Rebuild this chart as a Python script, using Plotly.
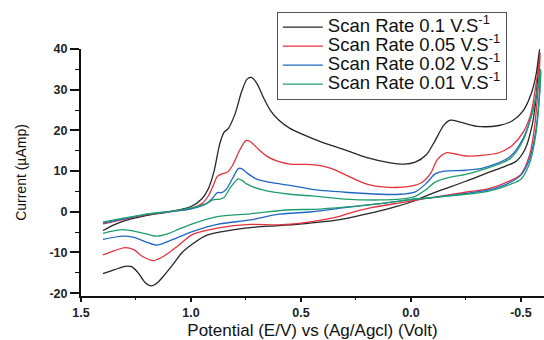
import plotly.graph_objects as go

# ---------------- data ----------------
SERIES_NAMES = ["Scan Rate 0.1 V.S<sup>-1</sup>", "Scan Rate 0.05 V.S<sup>-1</sup>",
                "Scan Rate 0.02 V.S<sup>-1</sup>", "Scan Rate 0.01 V.S<sup>-1</sup>"]

# 0.1 V/s
POT_010 = [1.40, 1.35, 1.30, 1.20, 1.10, 1.00, 0.95, 0.92, 0.895, 0.87, 0.85, 0.83, 0.80, 0.77, 0.745,
           0.725, 0.70, 0.67, 0.64, 0.60, 0.55, 0.50, 0.40, 0.30, 0.20, 0.10, 0.03, -0.02, -0.07, -0.11,
           -0.15, -0.18, -0.22, -0.30, -0.40, -0.46, -0.51, -0.55, -0.57, -0.585,
           -0.575, -0.565, -0.55, -0.52, -0.48, -0.43, -0.35, -0.25, -0.10, 0.00, 0.10, 0.20, 0.33,
           0.48, 0.60, 0.73, 0.85, 0.93, 0.99, 1.04, 1.08, 1.12, 1.15, 1.18, 1.21, 1.24, 1.27, 1.30,
           1.35, 1.40]
CUR_010 = [-4.6, -3.2, -2.2, -0.9, 0.0, 1.3, 3.2, 5.8, 10.0, 16.5, 19.5, 20.5, 24.0, 29.5, 32.6,
           33.0, 31.5, 28.0, 25.0, 22.5, 20.5, 19.2, 17.0, 15.2, 13.3, 12.1, 11.7, 12.2, 14.0, 17.5,
           21.3, 22.5, 22.1, 21.0, 21.2, 22.3, 24.8, 29.5, 34.0, 40.0,
           32.0, 26.0, 21.0, 15.5, 12.5, 11.2, 9.6, 7.5, 4.6, 2.4, 0.8, -0.5, -2.0,
           -2.9, -3.4, -3.9, -4.8, -5.8, -7.8, -10.0, -12.8, -15.5, -17.3, -18.2, -17.3, -15.0, -13.5, -13.4,
           -14.3, -15.2]

# 0.05 V/s
POT_005 = [1.40, 1.30, 1.20, 1.10, 1.00, 0.95, 0.92, 0.90, 0.88, 0.86, 0.835, 0.81, 0.78, 0.75, 0.73,
           0.69, 0.65, 0.61, 0.55, 0.45, 0.37, 0.29, 0.20, 0.10, 0.00, -0.05, -0.09, -0.12, -0.16,
           -0.20, -0.25, -0.33, -0.40, -0.46, -0.51, -0.545, -0.565, -0.58, -0.588,
           -0.575, -0.56, -0.54, -0.50, -0.45, -0.35, -0.25, -0.05, 0.05, 0.18, 0.29, 0.33, 0.45,
           0.60, 0.73, 0.88, 0.99, 1.06, 1.12, 1.17, 1.22, 1.26, 1.30, 1.35, 1.40]
CUR_005 = [-3.0, -1.8, -0.7, 0.0, 0.8, 2.0, 4.0, 6.3, 8.7, 9.3, 9.7, 11.5, 15.0, 17.5, 17.2,
           15.2, 13.5, 12.5, 11.7, 11.6, 10.8, 8.9, 6.8, 6.0, 6.3, 7.2, 9.5, 12.8, 14.5,
           14.2, 13.7, 13.9, 14.5, 16.3, 19.5, 24.0, 30.0, 35.5, 39.0,
           28.0, 20.0, 14.0, 9.2, 7.6, 5.6, 4.8, 3.1, 2.2, 1.0, -0.5, -1.2, -2.4,
           -3.2, -3.1, -4.0, -5.5, -8.4, -10.8, -12.0, -11.0, -9.3, -8.8, -9.6, -10.6]

# 0.02 V/s
POT_002 = [1.40, 1.30, 1.20, 1.00, 0.93, 0.90, 0.88, 0.86, 0.84, 0.81, 0.785, 0.77, 0.745, 0.70, 0.64,
           0.55, 0.45, 0.30, 0.14, 0.05, -0.02, -0.07, -0.11, -0.15, -0.25, -0.33, -0.45, -0.51,
           -0.55, -0.575, -0.59,
           -0.58, -0.565, -0.54, -0.50, -0.45, -0.35, -0.25, -0.10, 0.00, 0.14, 0.30, 0.45, 0.60,
           0.73, 0.88, 0.99, 1.10, 1.155, 1.20, 1.26, 1.31, 1.40]
CUR_002 = [-2.8, -1.7, -0.6, 0.7, 2.0, 3.5, 4.7, 4.7, 5.5, 8.3, 10.6, 10.6, 9.5, 8.0, 7.2,
           6.5, 5.5, 4.8, 4.3, 4.3, 4.9, 7.0, 9.3, 10.0, 10.2, 10.8, 13.5, 18.0,
           24.0, 30.0, 35.0,
           26.0, 19.0, 13.0, 9.0, 7.2, 5.3, 4.5, 3.5, 3.0, 2.0, 1.0, 0.0, -0.6,
           -2.0, -3.1, -4.8, -7.2, -8.2, -7.5, -6.3, -6.0, -6.8]

# 0.01 V/s
POT_001 = [1.40, 1.30, 1.19, 1.04, 0.93, 0.90, 0.87, 0.85, 0.82, 0.785, 0.765, 0.745, 0.67, 0.55,
           0.45, 0.30, 0.14, 0.05, -0.02, -0.07, -0.11, -0.17, -0.25, -0.33, -0.45, -0.51, -0.55,
           -0.575, -0.59,
           -0.58, -0.565, -0.54, -0.50, -0.45, -0.35, -0.25, -0.10, 0.00, 0.14, 0.29, 0.44, 0.55,
           0.73, 0.88, 0.99, 1.06, 1.10, 1.155, 1.20, 1.31, 1.40]
CUR_001 = [-2.5, -1.5, -0.5, 0.5, 2.0, 2.9, 3.1, 3.5, 6.0, 8.1, 7.6, 6.8, 5.3, 4.3,
           3.9, 3.1, 2.9, 3.1, 3.8, 5.5, 7.3, 8.4, 9.2, 10.4, 13.0, 17.5, 24.0,
           30.0, 35.0,
           25.0, 18.0, 12.0, 8.0, 6.7, 5.0, 4.3, 3.5, 3.0, 2.0, 1.2, 0.6, 0.5,
           -0.5, -1.2, -2.9, -4.4, -5.3, -6.0, -5.5, -4.4, -5.3]

X_TICKS = [1.5, 1.0, 0.5, 0.0, -0.5]
X_TICK_LABELS = ["1.5", "1.0", "0.5", "0.0", "-0.5"]
X_MINOR = [1.25, 0.75, 0.25, -0.25]
Y_TICKS = [-20, -10, 0, 10, 20, 30, 40]
Y_TICK_LABELS = ["-20", "-10", "0", "10", "20", "30", "40"]
Y_MINOR = [-15, -5, 5, 15, 25, 35]

COLORS = ["#262626", "#e2323e", "#2166c2", "#1f9e6c"]

# ---------------- figure ----------------
FONT = "Liberation Sans, Arial, sans-serif"
fig = go.Figure()
for name, xs, ys, col in zip(SERIES_NAMES, [POT_010, POT_005, POT_002, POT_001],
                             [CUR_010, CUR_005, CUR_002, CUR_001], COLORS):
    fig.add_trace(go.Scatter(
        x=xs, y=ys, mode="lines", name='<span style="font-size:18.5px">' + name + "</span>",
        line=dict(color=col, width=1.3, shape="spline", smoothing=0.8),
    ))

tick_font = dict(family=FONT, size=12.5, color="#222", weight="bold")

fig.update_layout(
    width=544, height=340,
    margin=dict(l=81, r=0, t=49, b=39),
    paper_bgcolor="white", plot_bgcolor="white",
    font=dict(family=FONT, color="#111"),
    showlegend=True,
    legend=dict(
        x=0.423, y=1.151, xanchor="left", yanchor="top",
        bgcolor="white", bordercolor="#555", borderwidth=1,
        font=dict(family=FONT, size=12, color="#111"),
        itemwidth=40, tracegroupgap=0,
    ),
    xaxis=dict(
        range=[1.5, -0.605], tickmode="array", tickvals=X_TICKS, ticktext=X_TICK_LABELS,
        showline=True, linecolor="#111", linewidth=2, ticks="outside", ticklen=4, tickwidth=1.6,
        tickcolor="#111", showgrid=False, zeroline=False, mirror=False, tickfont=tick_font,
        minor=dict(tickmode="array", tickvals=X_MINOR, ticks="outside", ticklen=2, tickwidth=1.4,
                   tickcolor="#111"),
        title=dict(text="Potential (E/V) vs (Ag/Agcl) (Volt)", standoff=8,
                   font=dict(family=FONT, size=17, color="#111")),
    ),
    yaxis=dict(
        range=[-20.7, 40], tickmode="array", tickvals=Y_TICKS, ticktext=Y_TICK_LABELS,
        showline=True, linecolor="#111", linewidth=2, ticks="outside", ticklen=9, tickwidth=1.6,
        tickcolor="#111", showgrid=False, zeroline=False, mirror=False, tickfont=tick_font,
        minor=dict(tickmode="array", tickvals=Y_MINOR, ticks="outside", ticklen=4, tickwidth=1.4,
                   tickcolor="#111"),
        title=dict(text="Current (µAmp)", standoff=20,
                   font=dict(family=FONT, size=14, color="#111")),
    ),
)

fig.write_html("out.html")
